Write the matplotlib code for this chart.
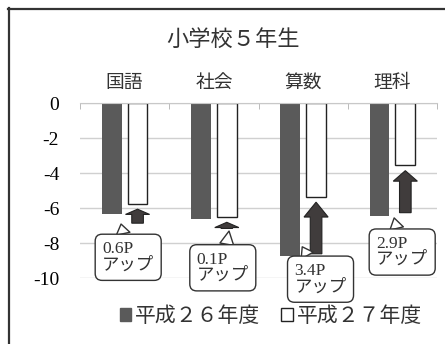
import numpy as np
import matplotlib
matplotlib.use('Agg')
import matplotlib.pyplot as plt
from matplotlib.patches import Patch, FancyArrow
from matplotlib.lines import Line2D

plt.rcParams['font.family'] = ['Liberation Serif', 'Noto Sans CJK JP']

# data
categories = ['国語', '社会', '算数', '理科']
h26 = [-6.35, -6.6, -8.75, -6.45]
h27 = [-5.75, -6.5, -5.35, -3.55]
yticks = [0, -2, -4, -6, -8, -10]
ytick_labels = ['0', '-2', '-4', '-6', '-8', '-10']
series_names = ['平成２６年度', '平成２７年度']

# arrow (base, head length) and callout placement (box centre, tail point)
arrow_base = [-6.85, -7.15, -8.6, -6.25]
arrow_head = [0.3, 0.3, 0.85, 0.6]
box_pos = [(0.04, -8.8), (1.10, -9.4), (2.195, -10.05), (3.11, -8.5)]
tail_pos = [(-0.04, -6.9), (1.17, -7.3), (1.99, -8.2), (3.02, -6.55)]

W, H = 445, 344
fig = plt.figure(figsize=(W / 100, H / 100), dpi=100)
ax = fig.add_axes([80 / W, 1 - 278.3 / H, 357 / W, 175 / H])

x = np.arange(len(categories))
ax.bar(x - 0.145, h26, 0.22, color='#5a5a5a', zorder=2)
ax.bar(x + 0.145, h27, 0.22, color='white', edgecolor='#222222', lw=1, zorder=2)

ax.set_xlim(-0.5, 3.5)
ax.set_ylim(-10, 0)
ax.set_yticks(yticks)
ax.set_yticklabels(ytick_labels, fontsize=14)
ax.tick_params(axis='y', length=0, pad=15)

ax.xaxis.tick_top()
ax.set_xticks(x)
ax.set_xticklabels(categories, fontsize=13.5, color='#333333')
ax.tick_params(axis='x', length=0, pad=8)
ax.set_xticks(np.arange(-0.5, 4, 1), minor=True)
ax.tick_params(axis='x', which='minor', length=4, direction='in', color='#b0b0b0', top=True)

for s in ['left', 'right', 'bottom']:
    ax.spines[s].set_visible(False)
ax.spines['top'].set_color('#c8c8c8')
ax.grid(axis='y', color='#d0d0d0', lw=1, zorder=0)
ax.set_axisbelow(True)

# improvement arrows and callouts
for i in range(len(categories)):
    tip = h27[i] - 0.3
    ax.add_patch(FancyArrow(x[i] + 0.145, arrow_base[i], 0, tip - arrow_base[i],
                            width=0.13, head_width=0.27, head_length=arrow_head[i],
                            length_includes_head=True, fc='#403c3c', ec='#222222',
                            lw=0.8, zorder=3))
    diff = h27[i] - h26[i]
    ax.annotate(f'{diff:.1f}P\nアップ', xy=tail_pos[i], xytext=box_pos[i],
                ha='center', va='center', multialignment='left', fontsize=12.5,
                linespacing=1.0, color='#333333', zorder=5, annotation_clip=False,
                bbox=dict(boxstyle='round,pad=0.4', fc='white', ec='#333333', lw=1),
                arrowprops=dict(arrowstyle='wedge,tail_width=0.8', fc='white',
                                ec='#333333', lw=1, shrinkA=0, shrinkB=0))

fig.text(233 / W, 1 - 40 / H, '小学校５年生', ha='center', va='center',
         fontsize=16, color='#333333')

handles = [Patch(fc='#5a5a5a', ec='#5a5a5a'),
           Patch(fc='white', ec='#222222', lw=1)]
fig.legend(handles, series_names, loc='center', bbox_to_anchor=(271 / W, 1 - 317 / H),
           ncol=2, frameon=False, fontsize=15, handlelength=0.55, handleheight=0.55,
           handletextpad=0.2, columnspacing=1.0, labelcolor='#333333')

# outer frame
fig.add_artist(Line2D([8.5 / W, 8.5 / W], [0, 1 - 8 / H], transform=fig.transFigure,
                      color='#333333', lw=1.6))
fig.add_artist(Line2D([8 / W, 1], [1 - 8.5 / H, 1 - 8.5 / H], transform=fig.transFigure,
                      color='#333333', lw=1.6))

fig.savefig('out.png', dpi=100)
